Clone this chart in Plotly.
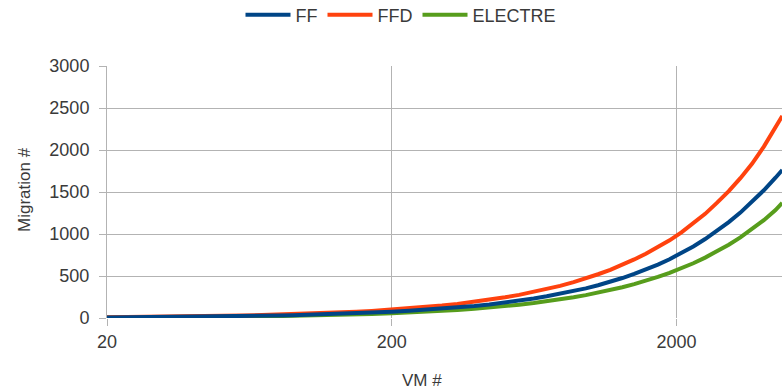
import plotly.graph_objects as go
import math

vm = [20, 25, 30, 35, 40, 50, 60, 70, 80, 90, 100, 115, 130, 150, 170, 200, 230, 260,
      300, 340, 390, 440, 500, 560, 630, 700, 780, 870, 960, 1060, 1170, 1290, 1420,
      1560, 1720, 1890, 2080, 2290, 2520, 2770, 3050, 3350, 3680, 4050, 4450, 4700]
ff = [7, 9, 11, 13, 15, 18, 22, 26, 29, 33, 37, 42, 48, 55, 63, 74, 85, 96,
      110, 125, 143, 162, 184, 206, 232, 258, 287, 320, 353, 390, 431, 476, 524,
      577, 636, 700, 772, 852, 940, 1035, 1142, 1255, 1380, 1520, 1670, 1762]
ffd = [10, 12, 15, 17, 20, 25, 30, 35, 40, 45, 50, 57, 65, 74, 84, 100, 113, 128,
       148, 167, 192, 215, 246, 275, 309, 344, 382, 427, 470, 521, 574, 633, 697,
       765, 845, 925, 1020, 1125, 1240, 1370, 1510, 1665, 1835, 2040, 2265, 2405]
electre = [6, 7, 9, 10, 11, 14, 17, 20, 23, 26, 28, 33, 37, 43, 48, 57, 65, 73,
           85, 96, 110, 124, 141, 158, 178, 198, 221, 246, 272, 300, 331, 366, 403,
           443, 489, 537, 592, 652, 719, 792, 873, 960, 1057, 1165, 1285, 1370]

x_ticks = [20, 200, 2000]
y_ticks = [0, 500, 1000, 1500, 2000, 2500, 3000]

FONT = "Liberation Sans, Arial, sans-serif"
TXT = "#3a3a3a"
GRID = "#b3b3b3"

W, H = 782, 392
L, T = 107, 66
PW, PH = W - L, 252

fig = go.Figure()
fig.add_trace(go.Scatter(x=vm, y=electre, name="ELECTRE", mode="lines",
                         line=dict(color="#579d1c", width=4), legendrank=3, cliponaxis=False))
fig.add_trace(go.Scatter(x=vm, y=ffd, name="FFD", mode="lines",
                         line=dict(color="#ff420e", width=4), legendrank=2, cliponaxis=False))
fig.add_trace(go.Scatter(x=vm, y=ff, name="FF", mode="lines",
                         line=dict(color="#004586", width=4), legendrank=1, cliponaxis=False))

def px_x(x):  # window pixel -> paper x
    return (x - L) / PW

def px_y(y):  # window pixel -> paper y
    return (T + PH - y) / PH

fig.update_layout(
    width=W, height=H,
    margin=dict(l=L, r=0, t=T, b=H - T - PH),
    paper_bgcolor="white", plot_bgcolor="white",
    font=dict(family=FONT, size=18, color=TXT),
    showlegend=True,
    legend=dict(orientation="h", xref="container", yref="container",
                x=401 / W, xanchor="center", y=1 - 15 / H, yanchor="middle",
                font=dict(family=FONT, size=18, color=TXT), itemwidth=45,
                bgcolor="rgba(0,0,0,0)"),
    xaxis=dict(type="log", range=[math.log10(20), math.log10(4690)],
               tickvals=x_ticks, ticktext=[str(v) for v in x_ticks],
               showgrid=True, gridcolor=GRID, gridwidth=1,
               ticks="outside", ticklen=7, tickcolor=GRID,
               showline=False, zeroline=False, ticklabelstandoff=0,
               tickfont=dict(family=FONT, size=18, color=TXT)),
    yaxis=dict(range=[0, 3000], tickvals=y_ticks,
               showgrid=True, gridcolor=GRID, gridwidth=1,
               ticks="outside", ticklen=7, tickcolor=GRID,
               showline=True, linecolor=GRID, zeroline=False, ticklabelstandoff=6,
               tickfont=dict(family=FONT, size=18, color=TXT)),
    annotations=[
        dict(text="Migration #", xref="paper", yref="paper", x=px_x(24), y=px_y(190),
             textangle=-90, showarrow=False, xanchor="center", yanchor="middle",
             font=dict(family=FONT, size=17, color=TXT)),
        dict(text="VM #", xref="paper", yref="paper", x=px_x(422), y=px_y(380),
             showarrow=False, xanchor="center", yanchor="middle",
             font=dict(family=FONT, size=17, color=TXT)),
    ],
)

fig.write_html(
    "out.html",
    config={"displayModeBar": False},
    post_script="document.body.style.margin='0';"
                "document.body.style.overflow='hidden';"
                "document.documentElement.style.overflow='hidden';",
)
